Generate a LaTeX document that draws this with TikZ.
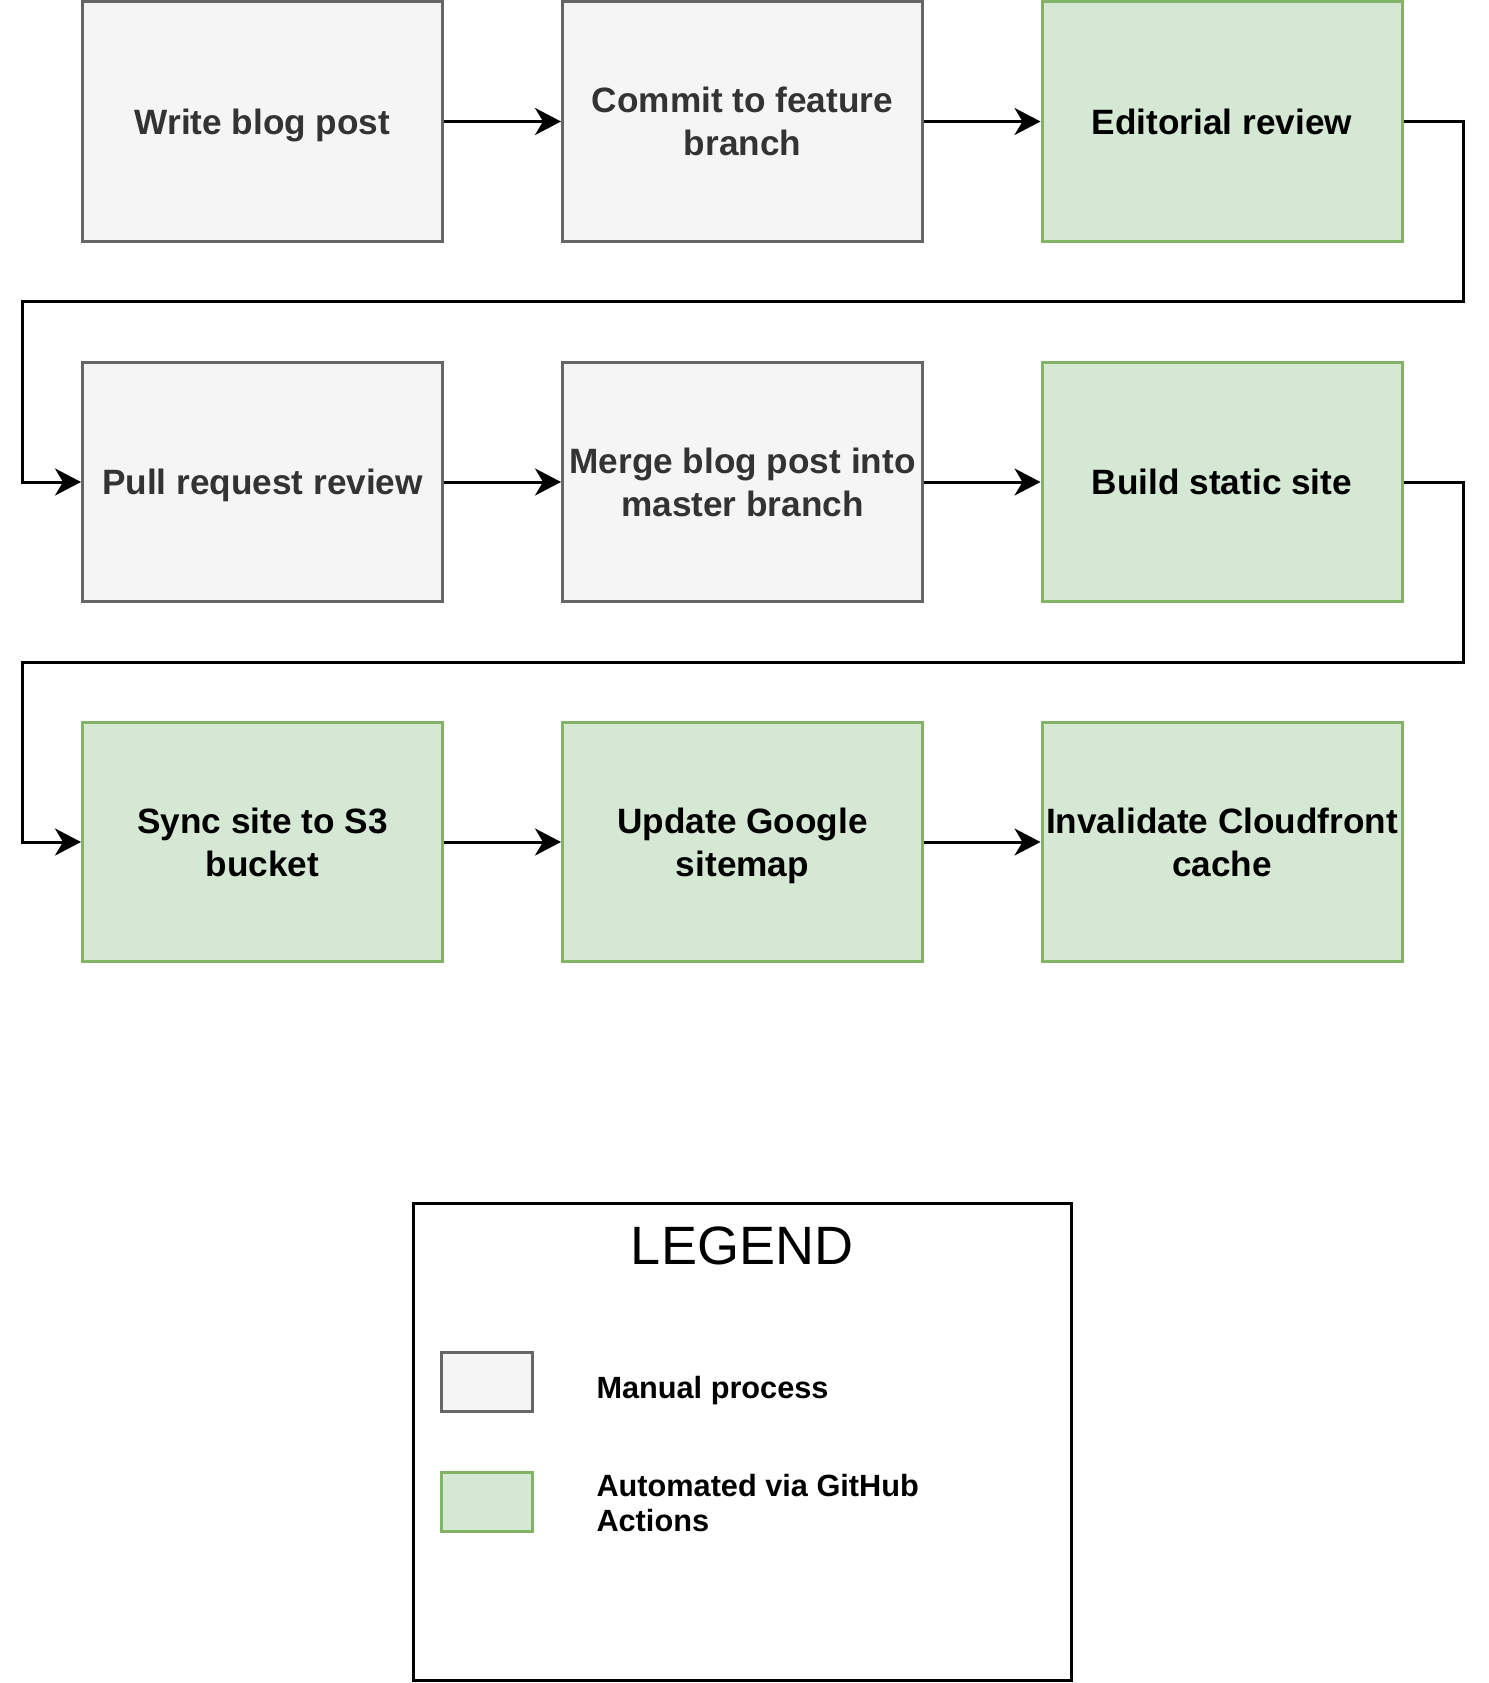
\documentclass[tikz,border=0pt]{standalone}
\usepackage{fontspec}
\setmainfont{Liberation Sans}
\usetikzlibrary{arrows.meta}

\definecolor{manfill}{HTML}{F5F5F5}
\definecolor{manline}{HTML}{666666}
\definecolor{mantext}{HTML}{333333}
\definecolor{autofill}{HTML}{D5E8D4}
\definecolor{autoline}{HTML}{82B366}

\tikzset{
  manual/.style={draw=manline, fill=manfill, text=mantext, line width=3pt,
    minimum width=360pt, minimum height=239pt, inner sep=0pt, align=center,
    text depth=0pt, font=\fontsize{35.2}{43}\selectfont\bfseries},
  automated/.style={manual, draw=autoline, fill=autofill, text=black},
  keytext/.style={anchor=west, align=left, inner sep=0pt,
    font=\fontsize{30.7}{35.5}\selectfont\bfseries},
}

\begin{document}
\begin{tikzpicture}[x=1pt, y=-1pt, >={Stealth[length=26pt,width=27pt,inset=8pt]}, line width=3pt]

\useasboundingbox (0,0) rectangle (1488,1683);

\node[manual] (write) at (262.5,121.5) {Write blog post};
\node[manual] (commit) at (742.5,121.5) {Commit to feature\\branch};
\node[automated] (editorial) at (1222,121.5) {Editorial review};

\node[manual] (pullreq) at (262.5,482) {Pull request review};
\node[manual] (merge) at (742.5,482) {Merge blog post into\\master branch};
\node[automated] (build) at (1222,482) {Build static site};

\node[automated] (sync) at (262.5,842) {Sync site to S3\\bucket};
\node[automated] (sitemap) at (742.5,842) {Update Google\\sitemap};
\node[automated] (invalidate) at (1222,842) {Invalidate Cloudfront\\cache};

\coordinate (bendA) at (1463,301);
\coordinate (bendB) at (22,301);
\coordinate (bendC) at (1463,662);
\coordinate (bendD) at (22,662);

\draw[->] (write) -- (commit);
\draw[->] (commit) -- (editorial);
\draw[->] (editorial.east) -| (bendA) -- (bendB) |- (pullreq.west);
\draw[->] (pullreq) -- (merge);
\draw[->] (merge) -- (build);
\draw[->] (build.east) -| (bendC) -- (bendD) |- (sync.west);
\draw[->] (sync) -- (sitemap);
\draw[->] (sitemap) -- (invalidate);

% legend
\node[draw, minimum width=658pt, minimum height=477pt, inner sep=0pt] (legend) at (742,1442) {};
\node[font=\fontsize{54}{60}\selectfont] (legendtitle) at (742,1246) {LEGEND};
\node[manual, minimum width=91pt, minimum height=59pt] (keymanual) at (487,1382) {};
\node[automated, minimum width=91pt, minimum height=59pt] (keyauto) at (487,1502) {};
\node[keytext] (keymanualtext) at (595,1391) {Manual process};
\node[keytext] (keyautotext) at (595,1503) {Automated via GitHub\\Actions};

\end{tikzpicture}
\end{document}
